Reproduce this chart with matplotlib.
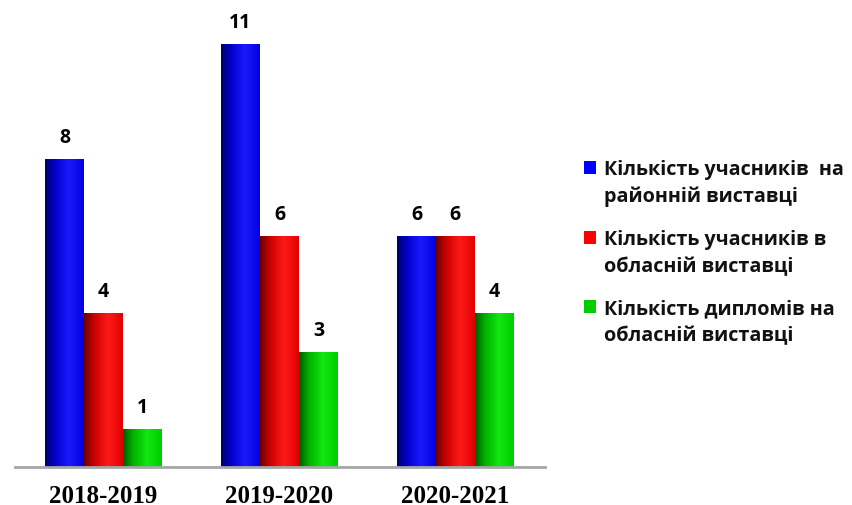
import numpy as np
import matplotlib
matplotlib.use("Agg")
import matplotlib.pyplot as plt
from matplotlib.colors import LinearSegmentedColormap
from matplotlib.legend_handler import HandlerPatch
from matplotlib.patches import Rectangle

categories = ["2018-2019", "2019-2020", "2020-2021"]
series_names = ["Кількість учасників  на\nрайонній виставці",
                "Кількість учасників в\nобласній виставці",
                "Кількість дипломів на\nобласній виставці"]
values_district = [8, 11, 6]
values_regional = [4, 6, 6]
values_diplomas = [1, 3, 4]

base_colors = ["#0000ff", "#ff0000", "#00cc00"]
grad_stops = [
    [(0.0, "#00006a"), (0.25, "#0000c8"), (0.62, "#1a1aff"), (1.0, "#0000e0")],
    [(0.0, "#6a0000"), (0.25, "#c80000"), (0.62, "#ff1a1a"), (1.0, "#e00000")],
    [(0.0, "#005a00"), (0.25, "#00b000"), (0.62, "#10e810"), (1.0, "#00cc00")],
]


class HandlerTopSquare(HandlerPatch):
    def create_artists(self, legend, orig_handle, xdescent, ydescent,
                       width, height, fontsize, trans):
        r = Rectangle((-xdescent, -ydescent + 11.2), width, height,
                      facecolor=orig_handle.get_facecolor(), edgecolor="none",
                      transform=trans)
        return [r]


fig = plt.figure(figsize=(8.52, 5.06), dpi=100)
ax = fig.add_axes([15/852, 38/506, 530/852, 462/506])

x = np.arange(len(categories))
w = 0.2216
all_series = [values_district, values_regional, values_diplomas]
proxies = []
for i, vals in enumerate(all_series):
    bars = ax.bar(x + (i - 1) * w, vals, width=w, color=base_colors[i], zorder=2)
    proxies.append(Rectangle((0, 0), 1, 1, facecolor=base_colors[i]))
    cmap = LinearSegmentedColormap.from_list("g%d" % i, grad_stops[i])
    grad = np.linspace(0, 1, 256).reshape(1, -1)
    for b, v in zip(bars, vals):
        x0, y0 = b.get_x(), b.get_y()
        im = ax.imshow(grad, cmap=cmap, aspect="auto", zorder=3,
                       extent=[x0, x0 + b.get_width(), y0, y0 + b.get_height()])
        im.set_clip_path(b)
        ax.text(b.get_x() + b.get_width() / 2, v + 0.3, str(v),
                ha="center", va="bottom", fontsize=14, fontweight="bold",
                family=["Open Sans", "DejaVu Sans"], color="#000000")

ax.set_xlim(-0.503, 2.509)
ax.set_ylim(0, 12)
for s in ["top", "right", "left"]:
    ax.spines[s].set_visible(False)
ax.spines["bottom"].set_color("#a6a6a6")
ax.spines["bottom"].set_linewidth(2)
ax.spines["bottom"].set_zorder(4)
ax.set_yticks([])
ax.set_xticks(x)
ax.set_xticklabels(categories, fontsize=18, fontweight="bold",
                   family=["Liberation Serif", "DejaVu Serif"])
ax.tick_params(axis="x", length=0, pad=12)

leg = fig.legend(proxies, series_names, loc="center left",
                 bbox_to_anchor=(566/852, 253/506), frameon=False,
                 prop={"family": ["Open Sans", "DejaVu Sans"], "weight": "bold", "size": 14.2},
                 handlelength=0.62, handleheight=0.62, handletextpad=0.4,
                 labelspacing=1.15,
                 handler_map={Rectangle: HandlerTopSquare()})
for t in leg.get_texts():
    t.set_linespacing(1.45)
    t.set_color("#111111")

fig.savefig("out.png", dpi=100)
